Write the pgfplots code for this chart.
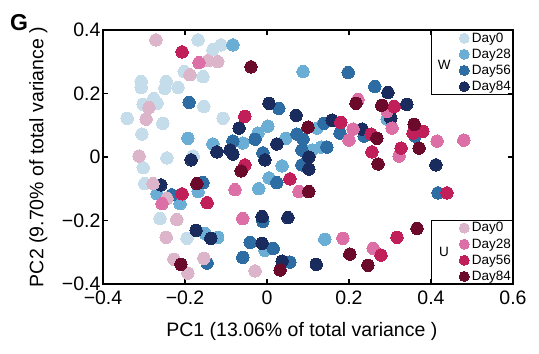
\documentclass[border=0pt]{standalone}
\usepackage{fontspec}
\setmainfont{Liberation Sans}
\usepackage{pgfplots}
\pgfplotsset{compat=1.18}
\usepackage{pgfplotstable}

\definecolor{w0}{RGB}{197,220,234}
\definecolor{w28}{RGB}{106,174,214}
\definecolor{w56}{RGB}{46,109,164}
\definecolor{w84}{RGB}{26,44,94}
\definecolor{u0}{RGB}{221,181,203}
\definecolor{u28}{RGB}{219,111,166}
\definecolor{u56}{RGB}{192,31,90}
\definecolor{u84}{RGB}{107,10,43}

\pgfplotstableread{
x y
-0.168 0.369
-0.132 0.338
-0.112 0.353
-0.202 0.269
-0.156 0.253
-0.307 0.238
-0.307 0.219
-0.246 0.238
-0.249 0.216
-0.217 0.219
-0.276 0.184
-0.302 0.166
-0.268 0.169
-0.154 0.159
-0.341 0.122
-0.254 0.106
-0.107 0.122
-0.305 0.072
-0.244 -0.003
-0.180 0.003
-0.302 -0.034
-0.298 -0.084
-0.261 -0.194
-0.195 -0.256
}\Wzero

\pgfplotstableread{
x y
-0.083 0.353
0.088 0.269
-0.193 0.059
-0.132 0.041
-0.059 0.044
-0.022 0.075
0.002 0.097
0.046 0.059
0.110 0.022
0.132 0.031
0.037 -0.028
0.005 -0.066
-0.020 -0.100
0.122 0.091
0.293 0.119
-0.268 -0.116
-0.212 -0.147
-0.168 -0.109
-0.151 -0.241
-0.120 -0.253
-0.005 -0.294
0.141 -0.259
}\Wtwoeight

\pgfplotstableread{
x y
0.198 0.266
0.263 0.222
0.029 0.153
-0.190 0.172
-0.029 0.056
-0.083 0.050
0.073 0.072
0.088 0.056
0.139 0.106
0.178 0.075
0.237 0.066
0.146 0.031
0.085 0.022
-0.010 0.013
0.085 -0.025
0.024 -0.081
-0.156 -0.081
-0.232 -0.119
0.361 0.066
0.417 -0.113
-0.010 -0.203
-0.041 -0.269
0.015 -0.288
-0.059 -0.316
-0.146 -0.334
0.056 -0.331
}\Wfivesix

\pgfplotstableread{
x y
0.295 0.203
0.005 0.169
0.341 0.166
0.071 0.131
-0.068 0.091
0.159 0.116
0.232 0.088
0.302 0.122
0.024 0.041
-0.122 0.016
-0.090 0.022
-0.083 0.009
-0.185 -0.009
-0.005 -0.009
0.102 0.000
0.102 -0.038
-0.259 -0.088
0.412 -0.025
-0.012 -0.188
0.051 -0.191
-0.173 -0.231
-0.137 -0.256
-0.012 -0.272
0.037 -0.328
0.120 -0.338
}\Weightfour

\pgfplotstableread{
x y
-0.271 0.369
-0.144 0.303
-0.120 0.300
-0.188 0.259
-0.288 0.156
-0.295 0.119
-0.312 0.003
-0.278 -0.084
-0.244 -0.131
-0.220 -0.197
-0.246 -0.253
-0.227 -0.322
-0.154 -0.319
-0.193 -0.366
-0.029 -0.359
}\Uzero

\pgfplotstableread{
x y
-0.166 0.297
0.222 0.181
0.293 0.144
0.305 0.091
0.210 0.088
0.200 0.053
0.415 0.050
0.480 0.053
0.322 0.003
-0.078 -0.103
0.078 -0.109
-0.256 -0.147
-0.059 -0.194
0.185 -0.256
0.259 -0.288
}\Utwoeight

\pgfplotstableread{
x y
-0.207 0.331
-0.054 0.128
0.180 0.109
0.310 0.159
0.254 0.072
0.356 0.075
0.380 0.081
0.256 0.016
0.327 0.028
-0.054 -0.025
0.056 -0.069
-0.207 -0.116
-0.146 -0.144
0.439 -0.113
0.278 -0.309
0.317 -0.253
}\Ufivesix

\pgfplotstableread{
x y
-0.039 0.284
0.217 0.169
0.280 0.163
0.100 0.094
0.268 0.059
0.359 0.103
0.371 0.028
0.271 -0.022
-0.063 -0.044
-0.171 -0.084
0.102 -0.109
0.366 -0.225
0.202 -0.306
0.246 -0.341
-0.210 -0.338
0.032 -0.356
}\Ueightfour

\pgfplotsset{
  dot/.style={only marks, mark=*, mark size=6.2pt, color=#1,
    mark options={fill=#1, draw=#1, line width=0pt},
    legend image code/.code={\draw[##1, mark size=5pt] plot coordinates {(0cm,0cm)};}},
  base/.style={
    scale only axis, width=410pt, height=254pt,
    xmin=-0.4, xmax=0.6, ymin=-0.4, ymax=0.4,
    clip=false,
  },
  leg/.style={legend style={draw=none, fill=none, anchor=north west,
      font=\fontsize{13.5pt}{14pt}\selectfont, row sep=2.2pt,
      inner sep=1pt, nodes={inner ysep=1.5pt, inner xsep=2.5pt}},
      legend cell align=left},
}

\begin{document}
\begin{tikzpicture}
\begin{axis}[base, leg,
  axis line style={line width=1.6pt},
  every tick/.style={black, line width=1.4pt},
  tick align=inside, major tick length=5pt,
  xtick={-0.4,-0.2,0,0.2,0.4,0.6},
  xticklabels={−0.4,−0.2,0,0.2,0.4,0.6},
  ytick={-0.4,-0.2,0,0.2,0.4},
  yticklabels={−0.4,−0.2,0,0.2,0.4},
  tick label style={font=\fontsize{19.5pt}{20pt}\selectfont},
  yticklabel style={xshift=1pt},
  xticklabel style={yshift=-3pt},
  xlabel={PC1 (13.06\% of total variance )},
  ylabel={PC2 (9.70\% of total variance )},
  label style={font=\fontsize{19.5pt}{20pt}\selectfont},
  xlabel style={at={(axis description cs:0.485,-0.185)}, anchor=center},
  ylabel style={at={(axis description cs:-0.158,0.5)}, anchor=center},
  legend style={at={(axis cs:0.466,0.400)}},
]
\addplot[dot=w0] table {\Wzero};
\addlegendentry{Day0}
\addplot[dot=w28] table {\Wtwoeight};
\addlegendentry{Day28}
\addplot[dot=w56] table {\Wfivesix};
\addlegendentry{Day56}
\addplot[dot=w84] table {\Weightfour};
\addlegendentry{Day84}
\draw[line width=1.3pt] (axis cs:0.402,0.4) -- (axis cs:0.402,0.197) -- (axis cs:0.6,0.197);
\draw[line width=1.3pt] (axis cs:0.402,-0.4) -- (axis cs:0.402,-0.2) -- (axis cs:0.6,-0.2);
\node[font=\fontsize{13.5pt}{14pt}\selectfont] at (axis cs:0.432,0.291) {W};
\node[font=\fontsize{13.5pt}{14pt}\selectfont] at (axis cs:0.432,-0.300) {U};
\node[font=\bfseries\fontsize{23pt}{24pt}\selectfont] at (axis description cs:-0.205,1.03) {G};
\end{axis}
\begin{axis}[base, leg, hide axis,
  legend style={at={(axis cs:0.466,-0.198)}},
]
\addplot[dot=u0] table {\Uzero};
\addlegendentry{Day0}
\addplot[dot=u28] table {\Utwoeight};
\addlegendentry{Day28}
\addplot[dot=u56] table {\Ufivesix};
\addlegendentry{Day56}
\addplot[dot=u84] table {\Ueightfour};
\addlegendentry{Day84}
\end{axis}
\pgfresetboundingbox
\path ([xshift=-103pt,yshift=-70pt]current axis.south west) rectangle ([xshift=26pt,yshift=30pt]current axis.north east);
\end{tikzpicture}
\end{document}
